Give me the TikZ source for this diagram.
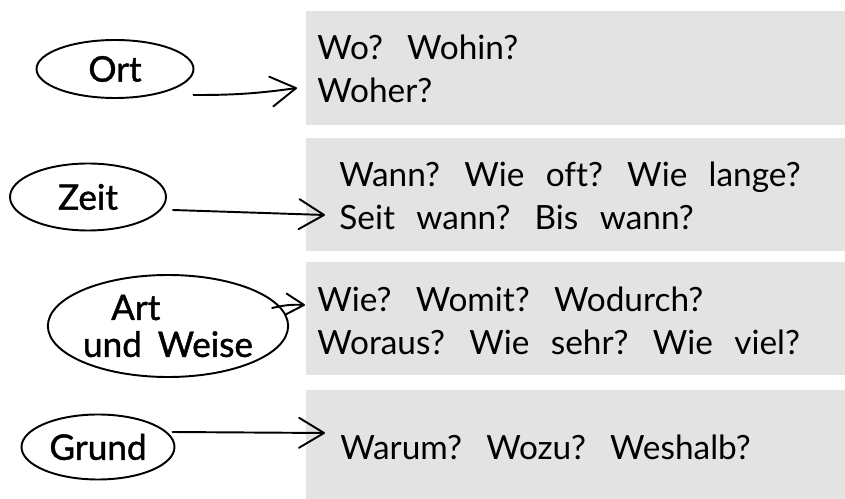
\documentclass[tikz,border=0pt]{standalone}
\usepackage{fontspec}
\setmainfont{Lato}[Ligatures=NoCommon]
\newfontfamily\topicfont[FakeBold=1.2,Ligatures=NoCommon]{Lato}
\usepackage{tikz}
\usetikzlibrary{arrows.meta,shapes.geometric,calc,positioning}
\definecolor{BoxGray}{HTML}{E3E3E3}
\definecolor{PenBlack}{HTML}{000000}
\newcommand\widespace[1]{\spaceskip=#1em plus 0.1em\relax}

\begin{document}
\begin{tikzpicture}[x=0.2mm, y=-0.2mm,
    >={Straight Barb[length=5mm,width=6mm,round]},
    askbox/.style={fill=BoxGray, draw=none, anchor=north west, inner sep=0pt, minimum width=107.8mm},
    asktext/.style={anchor=base west, align=left, inner sep=0pt,
      font=\fontsize{19}{25}\selectfont\widespace{0.64}},
    topic/.style={ellipse, draw=PenBlack, line width=1.1pt, inner sep=0pt,
      font=\topicfont\fontsize{20}{21}\selectfont\widespace{0.45}},
    pen/.style={->, PenBlack, line width=1.1pt, line cap=round}]
        \useasboundingbox (0,0) rectangle (845,499);

        \node[askbox, minimum height=22.8mm] (box1) at (306,11) {};
        \node[askbox, minimum height=22.6mm] (box2) at (306,138) {};
        \node[askbox, minimum height=22.6mm] (box3) at (306,262) {};
        \node[askbox, minimum height=21.8mm] (box4) at (306,390) {};

        % base anchor sits on the last line
        \node[asktext] (ortq) at (317,103) {Wo? Wohin?\\Woher?};
        \node[asktext] (zeitq) at (339,230) {Wann? Wie oft? Wie lange?\\Seit wann? Bis wann?};
        \node[asktext] (artq) at (317,355) {Wie? Womit? Wodurch?\\Woraus? Wie sehr? Wie viel?};
        \node[asktext] (grundq) at (340,460) {Warum? Wozu? Weshalb?};

        \node[topic, minimum width=31.4mm, minimum height=11.6mm] (ort) at (115,69) {Ort};
        \node[topic, minimum width=31.2mm, minimum height=13.4mm] (zeit) at (88,197) {Zeit};
        \node[topic, minimum width=44.4mm, minimum height=20.4mm, align=left] (art) at (168,326) {\hspace*{0.8em}Art\\und Weise};
        \node[topic, minimum width=30.6mm, minimum height=13mm] (grund) at (98,447) {Grund};

        \coordinate (ort in) at (297,88);
        \coordinate (zeit in) at (325,215);
        \coordinate (art in) at (305,305);
        \coordinate (grund in) at (325,433);

        \draw[pen] ([shift={(-1,26)}]ort.east) to[bend right=4] (ort in);
        \draw[pen] ([shift={(6,13)}]zeit.east) -- (zeit in);
        \draw[pen, >={Straight Barb[length=3.6mm,width=4.2mm,round]}] ([shift={(-17,-18)}]art.east) to[bend left=8] (art in);
        \draw[pen] ([shift={(-3,-15)}]grund.east) -- (grund in);
    \end{tikzpicture}
\end{document}
